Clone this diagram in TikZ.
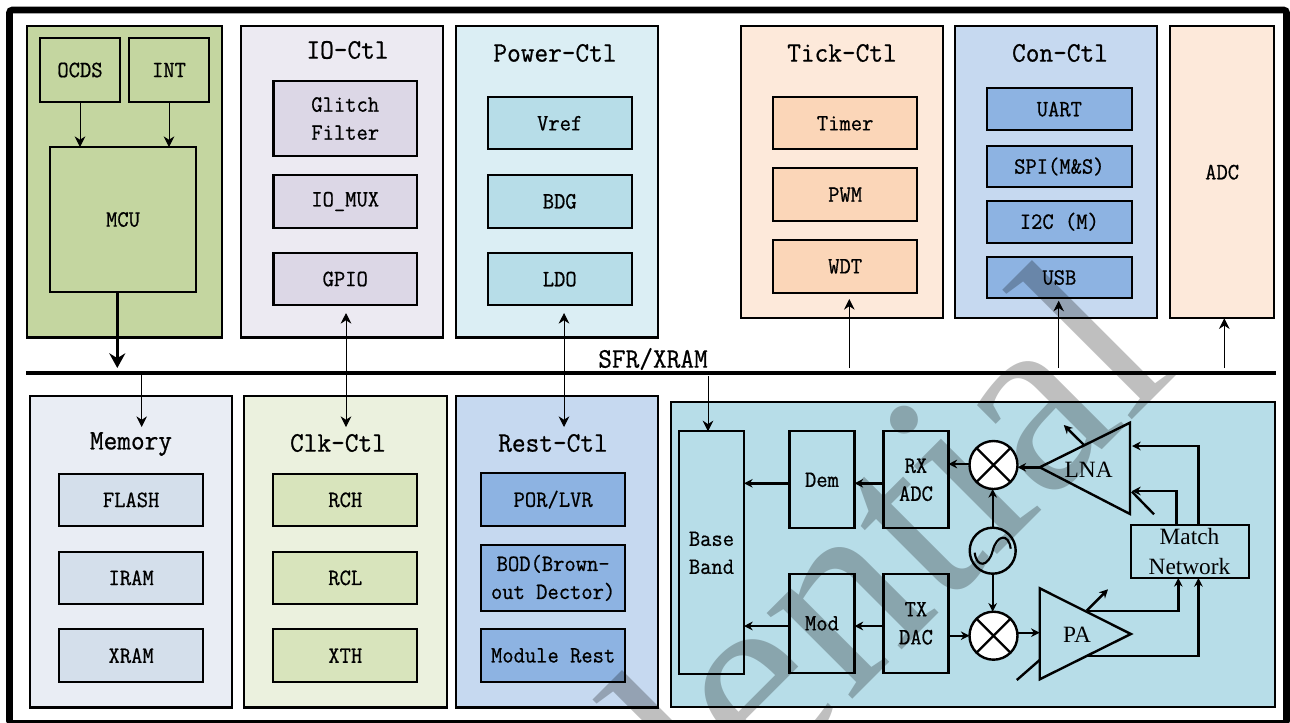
\documentclass[tikz,border=0pt]{standalone}
\usepackage{fontspec}
\usetikzlibrary{arrows.meta,calc}
\newfontface\wmfont{Liberation Serif}
\newfontface\rmlab{Liberation Serif}
\newfontface\lab[FakeBold=0.7,FakeStretch=0.94]{Latin Modern Mono}
\definecolor{cMcu}{HTML}{C4D6A0}
\definecolor{cIoG}{HTML}{ECEAF2}
\definecolor{cIoB}{HTML}{DCD7E6}
\definecolor{cPwG}{HTML}{DBEEF4}
\definecolor{cPwB}{HTML}{B7DDE8}
\definecolor{cTkG}{HTML}{FDE9DA}
\definecolor{cTkB}{HTML}{FBD6B8}
\definecolor{cCnG}{HTML}{C6D9F0}
\definecolor{cCnB}{HTML}{8DB3E2}
\definecolor{cMmG}{HTML}{E9EDF4}
\definecolor{cMmB}{HTML}{D4DFEB}
\definecolor{cCkG}{HTML}{EBF1DE}
\definecolor{cCkB}{HTML}{D8E4BC}
\tikzset{
  px/.style={x=0.75pt,y=-0.75pt},
  blk/.style={draw=black,line width=1.65pt,inner sep=0pt,outer sep=0pt,align=center,rectangle},
  lbl/.style={font=\lab\fontsize{17.5pt}{21pt}\selectfont},
  ttl/.style={font=\lab\fontsize{21.2pt}{24pt}\selectfont,inner sep=0pt,outer sep=0pt},
  rml/.style={font=\rmlab\fontsize{17.5pt}{22pt}\selectfont,inner sep=0pt,outer sep=0pt,align=center},
  thinarr/.style={line width=0.7pt,-{Stealth[length=8pt,width=8pt]}},
  dblarr/.style={line width=0.7pt,{Stealth[length=8pt,width=8pt]}-{Stealth[length=8pt,width=8pt]}},
  thickarr/.style={line width=2.2pt,-{Stealth[length=11pt,width=12pt]}},
  rfarr/.style={line width=1.8pt,-{Stealth[length=6.5pt,width=6.5pt]}},
  rfline/.style={line width=1.8pt},
  mixer/.style={circle,draw=black,line width=1.8pt,fill=white,minimum size=36pt,inner sep=0pt,outer sep=0pt},
  oscil/.style={circle,draw=black,line width=1.8pt,minimum size=34.5pt,inner sep=0pt,outer sep=0pt},
}
\newcommand{\bx}[7]{\node[blk,lbl,#6,minimum width={(#4-#2)*0.75pt},minimum height={(#5-#3)*0.75pt}] (#1) at ({(#2+#4)/2},{(#3+#5)/2}) {#7};}
\begin{document}
\begin{tikzpicture}[px]
\useasboundingbox (0,0) rectangle (1290,722);
% outer frame
\draw[line width=4.9pt,rounded corners=2pt] (9.5,10) rectangle (1286.5,723.5);
% groups
\bx{gmcu}{27}{26}{222}{337.5}{fill=cMcu}{}
\bx{gio}{241}{26}{443}{337.5}{fill=cIoG}{}
\bx{gpw}{455.7}{26}{657.7}{337.5}{fill=cPwG}{}
\bx{gtk}{741}{26}{943}{318.3}{fill=cTkG}{}
\bx{gcn}{955}{26}{1157.3}{318.3}{fill=cCnG}{}
\bx{gadc}{1170}{26}{1274.3}{318.3}{fill=cTkG}{ADC}
\bx{gmm}{30}{395.7}{232.3}{707.5}{fill=cMmG}{}
\bx{gck}{244.3}{395.7}{446.7}{707.5}{fill=cCkG}{}
\bx{grs}{455.7}{395.7}{657.7}{707.5}{fill=cCnG}{}
\bx{grf}{671.3}{402.3}{1274.7}{706.7}{fill=cPwB}{}
% titles
\node[ttl] (tio) at (347.5,50) {IO-Ctl};
\node[ttl] (tpw) at (555,53) {Power-Ctl};
\node[ttl] (ttk) at (842,53) {Tick-Ctl};
\node[ttl] (tcn) at (1060,53) {Con-Ctl};
\node[ttl] (tmm) at (131,444) {Memory};
\node[ttl] (tck) at (338,443) {Clk-Ctl};
\node[ttl] (trs) at (553,443) {Rest-Ctl};
% MCU group
\bx{ocds}{40}{38}{120}{102}{fill=cMcu}{OCDS}
\bx{int}{129}{38}{209}{102}{fill=cMcu}{INT}
\bx{mcu}{50}{147}{196}{292}{fill=cMcu}{MCU}
% IO
\bx{glitch}{273.5}{81}{417}{156}{fill=cIoB}{Glitch\\Filter}
\bx{iomux}{273.5}{175}{417}{228}{fill=cIoB}{IO\_MUX}
\bx{gpio}{273.5}{253}{417}{305}{fill=cIoB}{GPIO}
% Power
\bx{vref}{487.7}{97.3}{631.7}{149.3}{fill=cPwB}{Vref}
\bx{bdg}{487.7}{175}{631.7}{227.7}{fill=cPwB}{BDG}
\bx{ldo}{487.7}{253}{631.7}{305.3}{fill=cPwB}{LDO}
% Tick
\bx{timer}{773.3}{97.3}{917}{149.3}{fill=cTkB}{Timer}
\bx{pwm}{773.3}{168.3}{917}{221}{fill=cTkB}{PWM}
\bx{wdt}{773.3}{240}{917}{292.7}{fill=cTkB}{WDT}
% Con
\bx{uart}{987}{88.3}{1131.7}{130}{fill=cCnB}{UART}
\bx{spi}{987}{145.7}{1131.7}{187.3}{fill=cCnB}{SPI(M\&S)}
\bx{iic}{987}{200.7}{1131.7}{242.7}{fill=cCnB}{I2C (M)}
\bx{usb}{987}{256.7}{1131.7}{298.3}{fill=cCnB}{USB}
% Memory
\bx{flash}{59}{473.7}{203.3}{526}{fill=cMmB}{FLASH}
\bx{iram}{59}{551.7}{203.3}{604}{fill=cMmB}{IRAM}
\bx{xram}{59}{629.3}{203.3}{682}{fill=cMmB}{XRAM}
% Clk
\bx{rch}{273.3}{473.7}{417.3}{526}{fill=cCkB}{RCH}
\bx{rcl}{273.3}{551.7}{417.3}{604}{fill=cCkB}{RCL}
\bx{xth}{273.3}{629.3}{417.3}{682}{fill=cCkB}{XTH}
% Rest
\bx{por}{481.3}{473.3}{625}{526}{fill=cCnB}{POR/LVR}
\bx{bod}{481.3}{545}{625}{610.7}{fill=cCnB}{BOD(Brown-\\out Dector)}
\bx{mrst}{481.3}{629.3}{625}{681.7}{fill=cCnB}{Module Rest}
% bus
\coordinate (busw) at (26,373);
\coordinate (buse) at (1276,373);
\draw[line width=2.5pt] (busw) -- (buse);
\node[ttl] (sfr) at (653,359) {SFR/XRAM};
% bus connectors
\draw[thinarr] (ocds.south) -- (ocds.south |- mcu.north);
\draw[thinarr] (int.south) -- (int.south |- mcu.north);
\coordinate (xm) at (117.3,368);
\draw[thickarr] (xm |- mcu.south) -- (xm);
\coordinate (xmem) at (141.7,373);
\coordinate (xmemEnd) at (141.7,427);
\draw[thinarr] (xmem) -- (xmemEnd);
\coordinate (ioTop) at (346,313);
\coordinate (ckTop) at (346,427);
\draw[dblarr] (ioTop) -- (ckTop);
\coordinate (pwTop) at (564,313);
\coordinate (rsTop) at (564,427);
\draw[dblarr] (pwTop) -- (rsTop);
\coordinate (xbb) at (708,376);
\coordinate (xtk) at (849.3,368);
\coordinate (xtkEnd) at (849.3,299);
\draw[thinarr] (xtk) -- (xtkEnd);
\coordinate (xcn) at (1058.7,368);
\coordinate (xcnEnd) at (1058.7,300.7);
\draw[thinarr] (xcn) -- (xcnEnd);
\coordinate (xadc) at (1224.3,368);
\draw[thinarr] (xadc) -- (xadc |- gadc.south);
% RF blocks
\bx{bb}{678.9}{431.3}{744}{674.3}{}{Base\\Band}
\bx{dem}{789.4}{431.3}{854.5}{528.3}{}{Dem}
\bx{rxadc}{883.4}{431.3}{948.5}{528.3}{}{RX\\ADC}
\bx{modb}{789.4}{574}{854.5}{672.7}{}{Mod}
\bx{txdac}{883.4}{574}{948.5}{672.7}{}{TX\\DAC}
\draw[thinarr] (xbb) -- (xbb |- bb.north);
% watermark lies over the blocks and under the mixers
\begin{scope}
\clip (0,0) rectangle (1290,722);
\node[anchor=base east,inner sep=0pt,rotate=45,text opacity=0.25,text=black,font=\wmfont\fontsize{198pt}{198pt}\selectfont] (wm) at (1180,372) {Confidential};
\end{scope}
% mixers
\node[mixer] (mixt) at (993.5,465) {};
\node[mixer] (mixb) at (993.5,635.7) {};
\draw[rfline] (mixt.north west) -- (mixt.south east) (mixt.north east) -- (mixt.south west);
\draw[rfline] (mixb.north west) -- (mixb.south east) (mixb.north east) -- (mixb.south west);
\node[oscil] (osc) at (992.7,550.7) {};
\draw[line width=1.6pt] ([shift={(-18,2)}]osc.center) .. controls ([shift={(-16,18)}]osc.center) and ([shift={(-4,16)}]osc.center) .. (osc.center) .. controls ([shift={(4,-16)}]osc.center) and ([shift={(16,-18)}]osc.center) .. ([shift={(18,-2)}]osc.center);
% LNA
\coordinate (lnaA) at (1039.7,467.3);
\coordinate (lnaB) at (1130,422.7);
\coordinate (lnaC) at (1130,514);
\draw[rfline,line join=miter] (lnaA) -- (lnaB) -- (lnaC) -- cycle;
\node[rml] (lnat) at (1088.7,469.3) {LNA};
% PA
\coordinate (paA) at (1039.7,588.3);
\coordinate (paB) at (1130.9,634);
\coordinate (paC) at (1039.7,679.3);
\draw[rfline,line join=miter] (paA) -- (paB) -- (paC) -- cycle;
\node[rml] (pat) at (1077,635) {PA};
% Match
\bx{match}{1130.9}{525}{1248.6}{577.7}{}{}
\node[rml] (mt1) at (1189.5,536.7) {Match};
\node[rml] (mt2) at (1189.5,566.7) {Network};
% RF arrows
\coordinate (yrx) at (0,464);
\coordinate (yd) at (0,483.3);
\coordinate (ym) at (0,626);
\coordinate (ypa) at (0,632.7);
\draw[rfarr] (mixt.west |- yrx) -- (rxadc.east |- yrx);
\draw[rfarr] (lnaA) -- (mixt.east |- lnaA);
\draw[rfarr] (rxadc.west |- yd) -- (dem.east |- yd);
\draw[rfarr] (dem.west |- yd) -- (bb.east |- yd);
\draw[rfarr] (txdac.west |- ym) -- (modb.east |- ym);
\draw[rfarr] (modb.west |- ym) -- (bb.east |- ym);
\draw[rfarr] (txdac.east |- mixb) -- (mixb.west);
\draw[rfarr] (mixb.east |- ypa) -- (paA |- ypa);
\draw[rfarr] (osc.north) -- (osc.north |- mixt.south);
\draw[rfarr] (osc.south) -- (osc.south |- mixb.north);
% antennas and controls
\coordinate (lnaAnt) at (1084,445);
\coordinate (lnaAntEnd) at (1063.8,425);
\draw[rfarr] (lnaAnt) -- (lnaAntEnd);
\coordinate (lnaCtl) at (1132,491.7);
\coordinate (lnaCtlEnd) at (1154,514.3);
\draw[rfline] (lnaCtl) -- (lnaCtlEnd);
\coordinate (paAnt) at (1086.7,610.7);
\coordinate (paAntEnd) at (1108,589.3);
\draw[rfarr] (paAnt) -- (paAntEnd);
\coordinate (paCtl) at (1039.7,660);
\coordinate (paCtlEnd) at (1016.8,680);
\draw[rfline] (paCtl) -- (paCtlEnd);
% match connections
\coordinate (mm1) at (1198.4,525);
\coordinate (mm2) at (1176.3,525);
\coordinate (ln1) at (1132,446);
\coordinate (ln2) at (1132,491);
\draw[rfarr] (mm1) |- (ln1);
\draw[rfarr] (mm2) |- (ln2);
\coordinate (pa1) at (1088,610.7);
\coordinate (pa2) at (1088,656);
\coordinate (mb1) at (1178.3,578);
\coordinate (mb2) at (1198.4,578);
\draw[rfarr] (pa1) -| (mb1);
\draw[rfarr] (pa2) -| (mb2);
\end{tikzpicture}
\end{document}
